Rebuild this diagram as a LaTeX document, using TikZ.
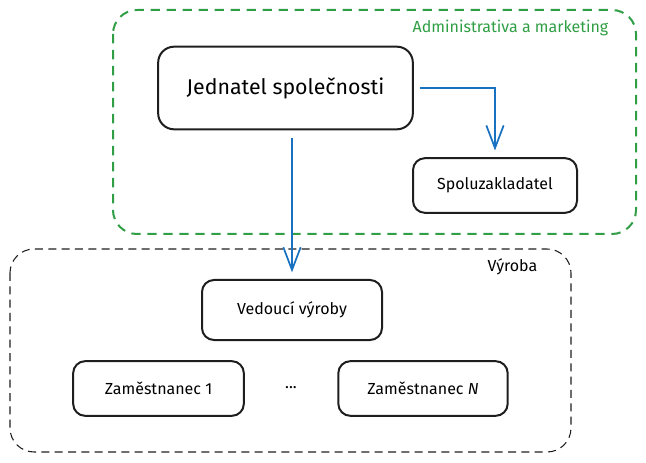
\documentclass[tikz,border=0pt]{standalone}
\usepackage{fontspec}
\setmainfont{Fira Sans}
\usetikzlibrary{arrows.meta}
\definecolor{grpgreen}{HTML}{2F9E44}
\definecolor{arrblue}{HTML}{1971C2}
\definecolor{inkblack}{HTML}{1E1E1E}
\tikzset{
  role/.style={draw=inkblack, line width=1.5pt, rounded corners=9pt, align=center,
    inner sep=0pt, font=\fontsize{12}{14}\selectfont},
  group/.style={dashed, rounded corners=18pt},
  arr/.style={draw=arrblue, line width=1.3pt, -{Straight Barb[length=17pt,width=13pt]}}
}
\begin{document}
\begin{tikzpicture}[x=0.75pt, y=-0.75pt]
      \useasboundingbox (0,0) rectangle (646,463);
      \draw[group, grpgreen, line width=1.5pt, dash pattern=on 7pt off 5pt] (113,10) rectangle (636,234);
      \draw[group, inkblack, line width=0.8pt, dash pattern=on 6pt off 4pt] (10,249) rectangle (571,452);
      \node[anchor=east, text=grpgreen, font=\fontsize{12}{14}\selectfont] (admlabel) at (613,28) {Administrativa a marketing};
      \node[anchor=east, font=\fontsize{12}{14}\selectfont] (vyrlabel) at (542,267) {Výroba};
      \node[role, rounded corners=12pt, minimum width=191pt, minimum height=62pt, font=\fontsize{16}{19}\selectfont] (jed) at (285.5,88) {Jednatel společnosti};
      \node[role, minimum width=123pt, minimum height=41pt] (spol) at (495,185.5) {Spoluzakladatel};
      \node[role, minimum width=135pt, minimum height=45pt] (ved) at (292,310) {Vedoucí výroby};
      \node[role, minimum width=128pt, minimum height=41pt] (zam1) at (158.5,388.5) {Zaměstnanec 1};
      \node[font=\fontsize{12}{14}\selectfont] (dots) at (291,388) {...};
      \node[role, minimum width=127pt, minimum height=41pt] (zamn) at (423,388.5) {Zaměstnanec \textit{N}};
      \draw[arr, shorten <=6pt, shorten >=5pt] (ved.north |- jed.south) -- (ved.north);
      \draw[arr, shorten <=4.5pt, shorten >=5pt] (jed.east) -| (spol.north);
    \end{tikzpicture}
\end{document}
